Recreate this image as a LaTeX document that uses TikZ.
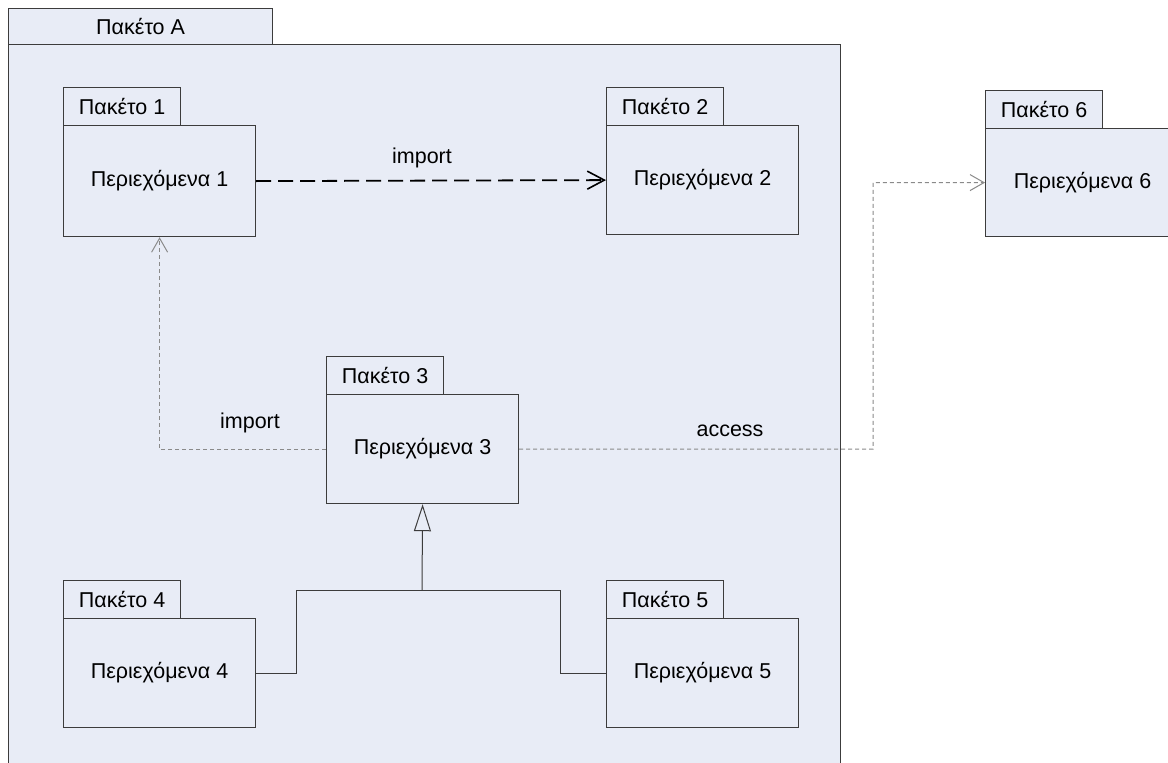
\documentclass[tikz,border=0pt]{standalone}
\usepackage{fontspec}
\setmainfont{Liberation Sans}
\usetikzlibrary{arrows.meta}
\definecolor{pkgfill}{HTML}{E8ECF6}
\definecolor{pkgline}{HTML}{3C3C3C}
\definecolor{depgray}{HTML}{8A8A8A}
\tikzset{
  x=1pt, y=-1pt,
  every node/.style={font=\fontsize{21.5}{24}\selectfont, text=black},
  pkgtab/.style={draw=pkgline, fill=pkgfill, line width=1.2pt, anchor=north west, inner sep=0pt},
  pkgbody/.style={draw=pkgline, fill=pkgfill, line width=1.2pt, anchor=north west, inner sep=0pt},
  lbl/.style={inner sep=1pt},
  importdep/.style={draw=black, line width=1.8pt, dash pattern=on 15pt off 7pt,
    -{Straight Barb[length=17pt, width=18pt, line width=1.6pt]}},
  thindep/.style={draw=depgray, line width=1pt, dash pattern=on 4pt off 3pt,
    -{Straight Barb[length=14pt, width=16pt, line width=1pt]}},
  genline/.style={draw=pkgline, line width=1pt},
  genarrow/.style={draw=pkgline, line width=1pt,
    -{Triangle[open, length=27pt, width=17pt, fill=pkgfill]}}
}
% \pkg{name}{x}{tabtop}{tabwidth}{tabheight}{bodywidth}{bodyheight}{title}{contents}
\newcommand{\pkg}[9]{%
  \node[pkgtab, minimum width=#4pt, minimum height=#5pt] (#1tab) at (#2,#3) {#8};
  \node[pkgbody, minimum width=#6pt, minimum height=#7pt] (#1) at (#2,#3+#5) {#9};
}
\begin{document}
\begin{tikzpicture}
  \useasboundingbox (0,0) rectangle (1168,763);
  \fill[white] (0,0) rectangle (1168,763);

  % enclosing package
  \node[pkgtab, minimum width=264pt, minimum height=36pt] (pAtab) at (8,8) {Πακέτο A};
  \node[pkgbody, minimum width=832pt, minimum height=740pt] (pA) at (8,44) {};

  % nested packages
  \pkg{p1}{63}{87}{117}{38}{192}{111}{Πακέτο 1}{Περιεχόμενα 1}
  \pkg{p2}{606}{87}{117}{38}{192}{109}{Πακέτο 2}{Περιεχόμενα 2}
  \pkg{p3}{326}{356}{117}{38}{192}{109}{Πακέτο 3}{Περιεχόμενα 3}
  \pkg{p4}{63}{580}{117}{38}{192}{109}{Πακέτο 4}{Περιεχόμενα 4}
  \pkg{p5}{606}{580}{117}{38}{192}{109}{Πακέτο 5}{Περιεχόμενα 5}
  % external package
  \pkg{p6}{985}{90}{117}{38}{194}{108}{Πακέτο 6}{Περιεχόμενα 6}

  % dependencies
  \draw[importdep] (p1.east) -- (p2.west);
  \node[lbl] (limp1) at (422,158) {import};

  \draw[thindep] (p3.west) -| (p1.south);
  \node[lbl] (limp2) at (250,423) {import};

  \coordinate (accbend) at (873,449);
  \draw[thindep] (p3.east) -- (accbend) |- (p6.west);
  \node[lbl] (lacc) at (730,431) {access};

  % generalization
  \coordinate (gjoin) at (422,590);
  \coordinate (gleft) at (296,590);
  \coordinate (gright) at (560,590);
  \draw[genline] (p4.east) -| (gleft) -- (gright) |- (p5.west);
  \draw[genarrow] (gjoin) -- (p3.south);
\end{tikzpicture}
\end{document}
